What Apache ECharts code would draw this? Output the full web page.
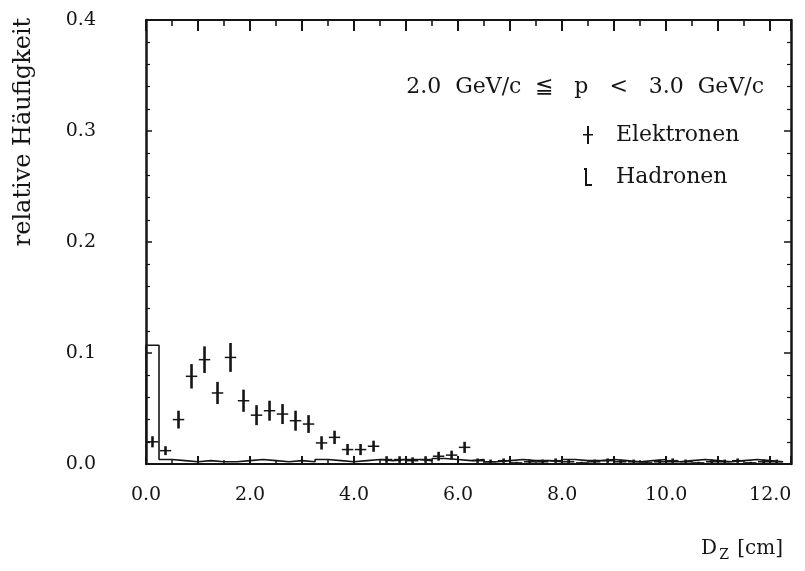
<!DOCTYPE html>
<html>
<head>
<meta charset="utf-8">
<script src="https://cdn.jsdelivr.net/npm/echarts@6/dist/echarts.min.js"></script>
<style>
html,body{margin:0;padding:0;background:#fff;}
#chart{width:805px;height:571px;}
</style>
</head>
<body>
<div id="chart"></div>
<script>
// ---- data ----
const xTickValues = [0, 2, 4, 6, 8, 10, 12];
const xTickLabels = ['0.0', '2.0', '4.0', '6.0', '8.0', '10.0', '12.0'];
const yTickValues = [0, 0.1, 0.2, 0.3, 0.4];
const yTickLabels = ['0.0', '0.1', '0.2', '0.3', '0.4'];

// Elektronen: bin centres [cm], relative frequency, error
const elecX = [0.125,0.375,0.625,0.875,1.125,1.375,1.625,1.875,2.125,2.375,2.625,2.875,3.125,3.375,3.625,3.875,4.125,4.375,4.625,4.875,5.125,5.375,5.625,5.875,6.125,6.375,6.625,6.875,7.125,7.375,7.625,7.875,8.125,8.375,8.625,8.875,9.125,9.375,9.625,9.875,10.125,10.375,10.625,10.875,11.125,11.375,11.625,11.875,12.125];
const elecY = [0.020,0.012,0.040,0.079,0.094,0.064,0.096,0.057,0.044,0.048,0.045,0.039,0.036,0.019,0.024,0.013,0.013,0.016,0.004,0.004,0.003,0.004,0.007,0.008,0.015,0.003,0.002,0.003,0.001,0.002,0.002,0.003,0.002,0.001,0.002,0.003,0.002,0.002,0.001,0.002,0.003,0.002,0.001,0.002,0.002,0.003,0.001,0.002,0.002];
const elecErr = [0.005,0.004,0.008,0.011,0.012,0.010,0.013,0.010,0.009,0.009,0.009,0.009,0.008,0.006,0.006,0.005,0.005,0.005,0.003,0.003,0.003,0.003,0.004,0.004,0.005,0.002,0.002,0.002,0.001,0.002,0.002,0.002,0.002,0.001,0.002,0.002,0.002,0.002,0.001,0.002,0.002,0.002,0.001,0.002,0.002,0.002,0.001,0.002,0.002];

// Hadronen: histogram bin edges [cm] and contents
const hadEdges = [0,0.25,0.5,0.75,1,1.25,1.5,1.75,2,2.25,2.5,2.75,3,3.25,3.5,3.75,4,4.25,4.5,4.75,5,5.25,5.5,5.75,6,6.25,6.5,6.75,7,7.25,7.5,7.75,8,8.25,8.5,8.75,9,9.25,9.5,9.75,10,10.25,10.5,10.75,11,11.25,11.5,11.75,12,12.25];
const hadY = [0.107,0.004,0.003,0.002,0.003,0.002,0.002,0.003,0.004,0.003,0.002,0.003,0.002,0.004,0.003,0.002,0.003,0.004,0.003,0.004,0.004,0.003,0.005,0.004,0.003,0.004,0.002,0.003,0.004,0.003,0.003,0.002,0.004,0.003,0.003,0.004,0.003,0.002,0.003,0.004,0.002,0.003,0.004,0.003,0.002,0.003,0.004,0.003,0.002];

const titleText = '2.0  GeV/c  \u2266   p   <   3.0  GeV/c';
const yName = 'relative H\u00e4ufigkeit';

// ---- build chart ----
const FONT = 'DejaVu Serif';
const INK = '#151515';
const crossHalfWidth = 0.11;
const noSplit = {show: true, lineStyle: {color: 'rgba(0,0,0,0)'}};

const elecData = elecX.map((x, i) => [x, elecY[i], elecErr[i]]);
const hadData = hadEdges.slice(0, hadY.length).map((e, i) => [e, hadY[i]]);
hadData.unshift([hadEdges[0], 0]);
hadData.push([hadEdges[hadY.length], hadY[hadY.length - 1]]);

const chart = echarts.init(document.getElementById('chart'), null, {renderer: 'canvas'});

const xLabelFmt = v => {
  const i = xTickValues.indexOf(Math.round(v * 1000) / 1000);
  return i >= 0 ? xTickLabels[i] : '';
};
const yLabelFmt = v => {
  const i = yTickValues.findIndex(t => Math.abs(t - v) < 1e-9);
  return i >= 0 ? yTickLabels[i] : '';
};

const option = {
  animation: false,
  backgroundColor: '#fff',
  title: {
    text: titleText,
    right: 36, top: 71,
    textStyle: {fontFamily: FONT, fontSize: 22, fontWeight: 'normal', color: INK}
  },
  legend: {
    orient: 'vertical',
    left: 578, top: 119,
    itemWidth: 10, itemHeight: 18, itemGap: 20,
    textStyle: {fontFamily: FONT, fontSize: 22, color: INK, padding: [0, 0, 0, 18]},
    data: [
      {name: 'Elektronen', icon: 'path://M4,0H6V18H4ZM0,8H10V9.5H0Z'},
      {name: 'Hadronen', icon: 'path://M0,0H3V16H8V18H1V2H0Z'}
    ]
  },
  grid: {left: 146, top: 20, width: 645, height: 444, containLabel: false},
  xAxis: [
    {
      type: 'value', min: 0, max: 12.4, interval: 1, position: 'bottom',
      name: 'D{sub|Z} [cm]', nameLocation: 'end', nameGap: 0,
      nameTextStyle: {
        fontFamily: FONT, fontSize: 20, color: INK, align: 'right', verticalAlign: 'top',
        padding: [72, 8, 0, 0],
        rich: {sub: {fontFamily: FONT, fontSize: 14, color: INK, padding: [12, 2, 0, 2]}}
      },
      axisLine: {show: true, onZero: false, lineStyle: {color: INK, width: 2}},
      axisTick: {show: true, inside: true, length: 8, lineStyle: {color: INK, width: 2}},
      minorTick: {show: true, splitNumber: 2, length: 4, lineStyle: {color: INK, width: 1.5}},
      axisLabel: {formatter: xLabelFmt, margin: 22, fontFamily: FONT, fontSize: 19, color: INK, showMaxLabel: false},
      splitLine: noSplit
    },
    {
      type: 'value', min: 0, max: 12.4, interval: 1, position: 'top',
      axisLine: {show: true, onZero: false, lineStyle: {color: INK, width: 2}},
      axisTick: {show: true, inside: true, length: 11, lineStyle: {color: INK, width: 2}},
      minorTick: {show: true, splitNumber: 2, length: 6, lineStyle: {color: INK, width: 1.6}},
      axisLabel: {show: false},
      splitLine: noSplit
    }
  ],
  yAxis: [
    {
      type: 'value', min: 0, max: 0.4, interval: 0.1, position: 'left',
      name: yName, nameLocation: 'middle', nameGap: 110,
      nameTextStyle: {fontFamily: FONT, fontSize: 24, color: INK, padding: [0, 0, 0, 220]},
      axisLine: {show: true, onZero: false, lineStyle: {color: INK, width: 2.5}},
      axisTick: {show: true, inside: true, length: 6, lineStyle: {color: INK, width: 1.5}},
      minorTick: {show: true, splitNumber: 5, length: 4, lineStyle: {color: INK, width: 1.2}},
      axisLabel: {formatter: yLabelFmt, margin: 50, fontFamily: FONT, fontSize: 19, color: INK},
      splitLine: noSplit
    },
    {
      type: 'value', min: 0, max: 0.4, interval: 0.1, position: 'right',
      axisLine: {show: true, onZero: false, lineStyle: {color: INK, width: 2.5}},
      axisTick: {show: true, inside: true, length: 7, lineStyle: {color: INK, width: 1.5}},
      minorTick: {show: true, splitNumber: 5, length: 4, lineStyle: {color: INK, width: 1.2}},
      axisLabel: {show: false},
      splitLine: noSplit
    }
  ],
  series: [
    {
      name: 'Hadronen', type: 'line', step: 'end',
      xAxisIndex: 0, yAxisIndex: 0,
      data: hadData, showSymbol: false, symbol: 'none',
      itemStyle: {color: INK},
      lineStyle: {color: INK, width: 1.6}
    },
    {
      name: 'Elektronen', type: 'custom',
      xAxisIndex: 0, yAxisIndex: 0,
      itemStyle: {color: INK},
      data: elecData,
      encode: {x: 0, y: 1},
      renderItem: function (params, api) {
        const x = api.value(0), y = api.value(1), e = api.value(2);
        const top = api.coord([x, y + e]);
        const bot = api.coord([x, Math.max(0, y - e)]);
        const l = api.coord([x - crossHalfWidth, y]);
        const r = api.coord([x + crossHalfWidth, y]);
        return {
          type: 'group',
          children: [
            {type: 'line', shape: {x1: top[0], y1: top[1], x2: bot[0], y2: bot[1]}, style: {stroke: INK, lineWidth: 2.6}},
            {type: 'line', shape: {x1: l[0], y1: l[1], x2: r[0], y2: r[1]}, style: {stroke: INK, lineWidth: 1.5}}
          ]
        };
      }
    }
  ]
};
chart.setOption(option);
</script>
</body>
</html>
